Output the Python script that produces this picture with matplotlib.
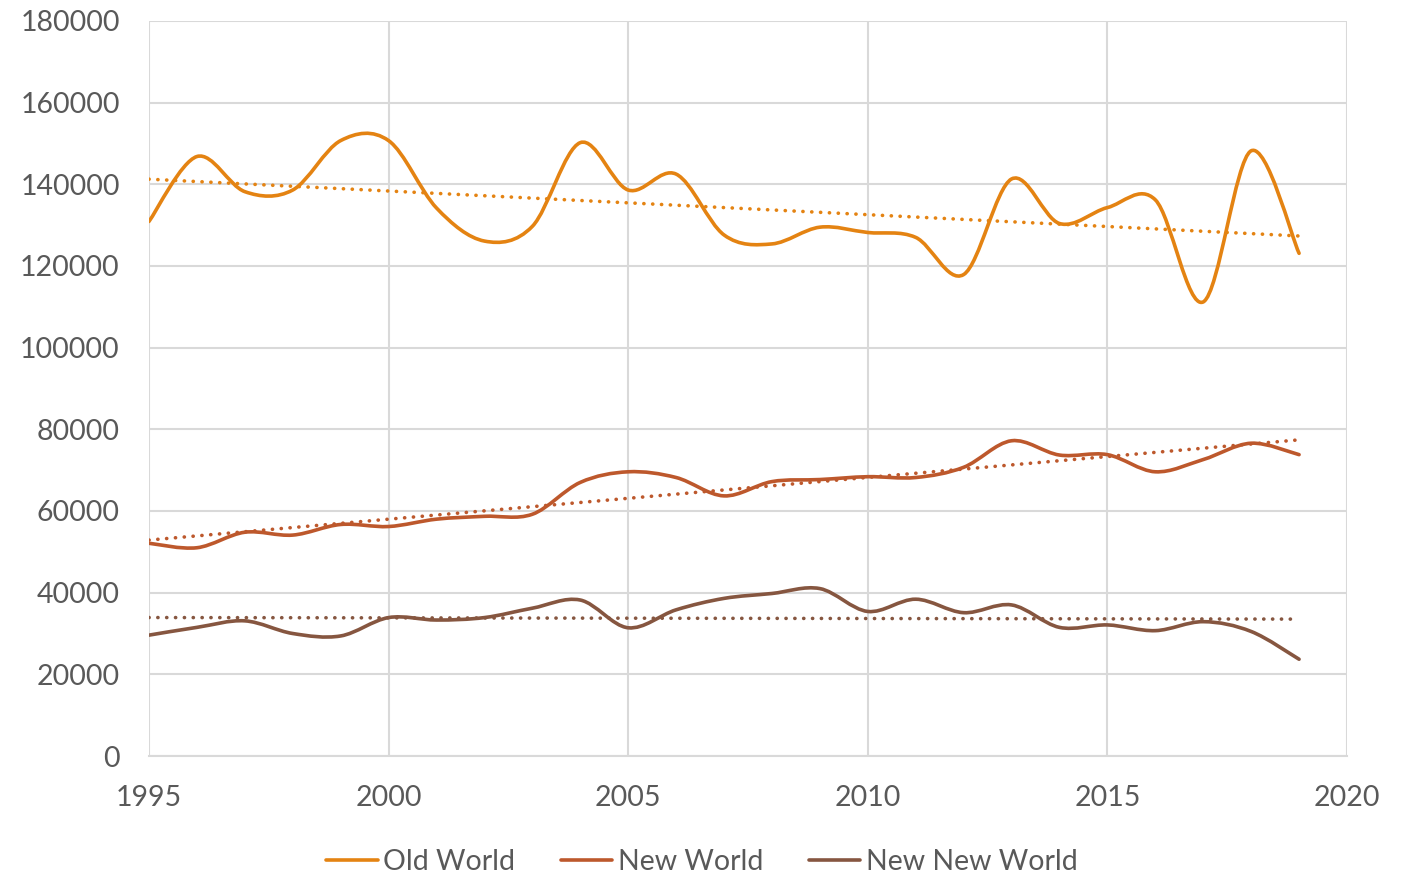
import matplotlib
matplotlib.use("Agg")
import matplotlib.pyplot as plt
from matplotlib.path import Path
from matplotlib.patches import PathPatch
from matplotlib.lines import Line2D
import numpy as np

plt.rcParams.update({
    "font.family": ["Lato", "DejaVu Sans"],
    "font.size": 20.5,
    "figure.facecolor": "white",
    "axes.facecolor": "white",
})

years = list(range(1995, 2020))

old_world = [130900, 146800, 138200, 138600, 150700, 150700, 134200, 126100,
             129700, 150200, 138600, 142500, 127600, 125400, 129500, 128200,
             127000, 117900, 141300, 130400, 134300, 136200, 111200, 148200,
             123100]
new_world = [52100, 51000, 54800, 54100, 56700, 56200, 58000, 58700,
             59200, 67000, 69600, 68200, 63700, 67200, 67700, 68400,
             68200, 70700, 77200, 73700, 73800, 69600, 72600, 76600,
             73800]
new_new_world = [29600, 31500, 33100, 30000, 29400, 33900, 33300, 33900,
                 36200, 38200, 31400, 35800, 38600, 39800, 41000, 35400,
                 38400, 35100, 37000, 31500, 32100, 30700, 32900, 30500,
                 23700]

series = [
    ("Old World", old_world, "#E48312"),
    ("New World", new_world, "#BD582C"),
    ("New New World", new_new_world, "#865640"),
]

x_ticks = [1995, 2000, 2005, 2010, 2015, 2020]
y_ticks = list(range(0, 180001, 20000))

LW = 2.6
TEXT = "#595959"
GRID = "#D9D9D9"


def smooth_path(xs, ys):
    # Excel-like smoothed line: Catmull-Rom segments as cubic Beziers
    xs = np.asarray(xs, float)
    ys = np.asarray(ys, float)
    px = np.concatenate([[xs[0]], xs, [xs[-1]]])
    py = np.concatenate([[ys[0]], ys, [ys[-1]]])
    verts = [(xs[0], ys[0])]
    codes = [Path.MOVETO]
    for i in range(1, len(px) - 2):
        c1 = (px[i] + (px[i + 1] - px[i - 1]) / 6, py[i] + (py[i + 1] - py[i - 1]) / 6)
        c2 = (px[i + 1] - (px[i + 2] - px[i]) / 6, py[i + 1] - (py[i + 2] - py[i]) / 6)
        verts += [c1, c2, (px[i + 1], py[i + 1])]
        codes += [Path.CURVE4] * 3
    return Path(verts, codes)


fig = plt.figure(figsize=(14.04, 8.73), dpi=100)
ax = fig.add_axes([0.1061, 0.134, 0.8533, 0.842])

for name, vals, color in series:
    ax.add_patch(PathPatch(smooth_path(years, vals), facecolor="none",
                           edgecolor=color, lw=LW, capstyle="round",
                           joinstyle="round", zorder=3))
    k, b = np.polyfit(years, vals, 1)
    xt = np.array([years[0], years[-1]])
    ax.plot(xt, k * xt + b, color=color, lw=LW, linestyle=(0, (0.05, 2.4)),
            dash_capstyle="round", zorder=2)

ax.set_xlim(1995, 2020)
ax.set_ylim(0, 180000)
ax.set_xticks(x_ticks)
ax.set_yticks(y_ticks)
ax.grid(True, color=GRID, lw=1.5, zorder=0)
ax.set_axisbelow(True)
for side in ["top", "right", "left"]:
    ax.spines[side].set_visible(False)
ax.spines["bottom"].set_color(GRID)
ax.spines["bottom"].set_linewidth(1.5)
ax.tick_params(axis="both", length=0, colors=TEXT, labelsize=20.5)
ax.tick_params(axis="y", pad=21)
ax.tick_params(axis="x", pad=21)

handles = [Line2D([0], [0], color=c, lw=LW, solid_capstyle="round")
           for _, _, c in series]
fig.legend(handles, [n for n, _, _ in series], loc="center",
           bbox_to_anchor=(0.5, 0.013), ncol=3, frameon=False,
           handlelength=1.8, handletextpad=0.2, columnspacing=1.6,
           labelcolor=TEXT, fontsize=20.5)

fig.savefig("out.png", dpi=100, facecolor="white")
